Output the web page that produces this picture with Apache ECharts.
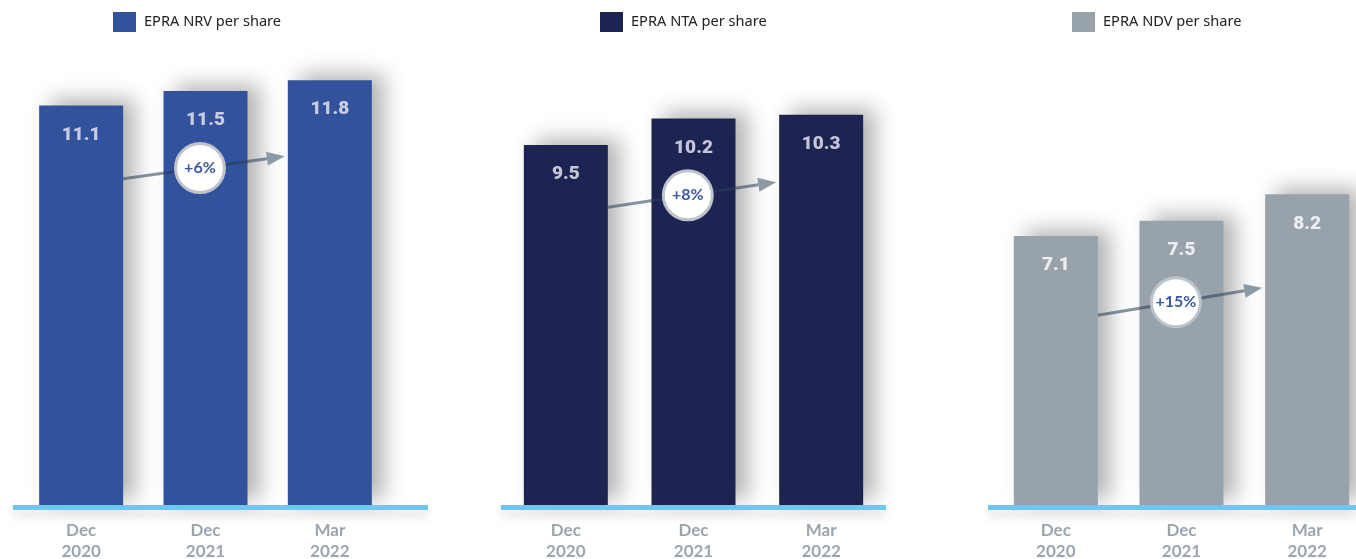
<!DOCTYPE html>
<html><head><meta charset="utf-8">
<script src="https://cdn.jsdelivr.net/npm/echarts@6/dist/echarts.min.js"></script>
<style>html,body{margin:0;padding:0;background:#fff}#c{width:1356px;height:559px}</style>
</head><body><div id="c"></div>
<script>
const categories = ['Dec\n2020', 'Dec\n2021', 'Mar\n2022'];
const nrv = [11.1, 11.5, 11.8];
const nta = [9.5, 10.2, 10.3];
const ndv = [7.1, 7.5, 8.2];
const seriesNames = ['EPRA NRV per share', 'EPRA NTA per share', 'EPRA NDV per share'];
const growth = ['+6%', '+8%', '+15%'];
const arrowStart = [9.06, 7.86, 5.01];
const arrowEnd = [9.69, 8.52, 5.73];

const colors = ['#33529c', '#1e2452', '#97a2ab'];
const labelColors = ['#c9cde3', '#c4c6d8', '#eceef1'];
const gridBase = {top: 73, bottom: 54, containLabel: false, outerBoundsMode: 'none'};
const grids = [
  Object.assign({left: 19, width: 373}, gridBase),
  Object.assign({left: 502, width: 383}, gridBase),
  Object.assign({left: 993, width: 377}, gridBase)
];
const yMax = [12, 11.4, 11.4];
const legendLeft = [108, 595, 1067];
const baseExt = [[-6, 36], [-1, 1], [-5, 0]];
const allData = [nrv, nta, ndv];
const BAR_W = 84;

const chart = echarts.init(document.getElementById('c'));
const option = {
  animation: false,
  backgroundColor: '#ffffff',
  legend: allData.map((d, i) => ({
    data: [{name: seriesNames[i], icon: 'rect'}], left: legendLeft[i], top: 7,
    itemWidth: 23, itemHeight: 20, itemGap: 8,
    textStyle: {fontFamily: 'Noto Sans', fontSize: 14.6, color: '#222', padding: [0, 0, 0, 3]}
  })),
  grid: grids,
  xAxis: allData.map((d, i) => ({
    type: 'category', gridIndex: i, data: categories,
    axisLine: {show: false}, axisTick: {show: false},
    axisLabel: {margin: 15, fontFamily: 'Lato', fontWeight: 'bold', fontSize: 17, lineHeight: 21, color: '#9aa5b0'}
  })),
  yAxis: allData.map((d, i) => ({
    type: 'value', gridIndex: i, min: 0, max: yMax[i], show: false, splitLine: {show: false}
  })),
  series: allData.map((d, i) => ({
    type: 'bar', name: seriesNames[i], xAxisIndex: i, yAxisIndex: i, data: d,
    barWidth: BAR_W,
    itemStyle: {color: colors[i], shadowBlur: 20, shadowOffsetX: 12, shadowOffsetY: -6, shadowColor: 'rgba(0,0,0,0.3)'},
    label: {show: true, position: 'insideTop', distance: 20, fontFamily: 'Roboto', fontWeight: 900, fontSize: 19,
      color: labelColors[i], formatter: p => p.value.toFixed(1)}
  }))
};
chart.setOption(option);

const graphics = [];
allData.forEach((d, i) => {
  const g = grids[i];
  const y0 = chart.convertToPixel({yAxisIndex: i}, 0);
  const gl = g.left, gr = g.left + g.width;
  const x0 = gl + baseExt[i][0];
  const x1 = Math.min(1356, gr + baseExt[i][1]);
  graphics.push({
    type: 'rect', z: 5,
    shape: {x: x0, y: y0, width: x1 - x0, height: 5},
    style: {fill: '#6ec7ee', shadowBlur: 10, shadowOffsetY: 6, shadowColor: 'rgba(0,0,0,0.15)'}
  });
  const x1c = chart.convertToPixel({xAxisIndex: i}, categories[0]);
  const x3c = chart.convertToPixel({xAxisIndex: i}, categories[2]);
  const sx = x1c + BAR_W / 2, sy = chart.convertToPixel({yAxisIndex: i}, arrowStart[i]);
  const ex = x3c - BAR_W / 2 - 3, ey = chart.convertToPixel({yAxisIndex: i}, arrowEnd[i]);
  const dx = ex - sx, dy = ey - sy, L = Math.hypot(dx, dy), ux = dx / L, uy = dy / L;
  const headL = 18, headW = 7;
  const bx = ex - ux * headL, by = ey - uy * headL;
  graphics.push({
    type: 'line', z: 10,
    shape: {x1: sx, y1: sy, x2: bx, y2: by},
    style: {stroke: 'rgba(40,60,85,0.55)', lineWidth: 3}
  });
  graphics.push({
    type: 'polygon', z: 10,
    shape: {points: [[ex, ey], [bx - uy * headW, by + ux * headW], [bx + uy * headW, by - ux * headW]]},
    style: {fill: '#8c9aa6'}
  });
  const t = 0.475;
  const cx = sx + dx * t, cy = sy + dy * t;
  graphics.push({
    type: 'circle', z: 11,
    shape: {cx: cx, cy: cy, r: 24.5},
    style: {fill: '#ffffff', stroke: '#bcc3ca', lineWidth: 3}
  });
  graphics.push({
    type: 'text', z: 12, x: cx, y: cy,
    style: {text: growth[i], fill: '#3a58a6', font: 'bold 16px Lato', align: 'center', verticalAlign: 'middle'}
  });
});
chart.setOption({graphic: graphics});
</script></body></html>
